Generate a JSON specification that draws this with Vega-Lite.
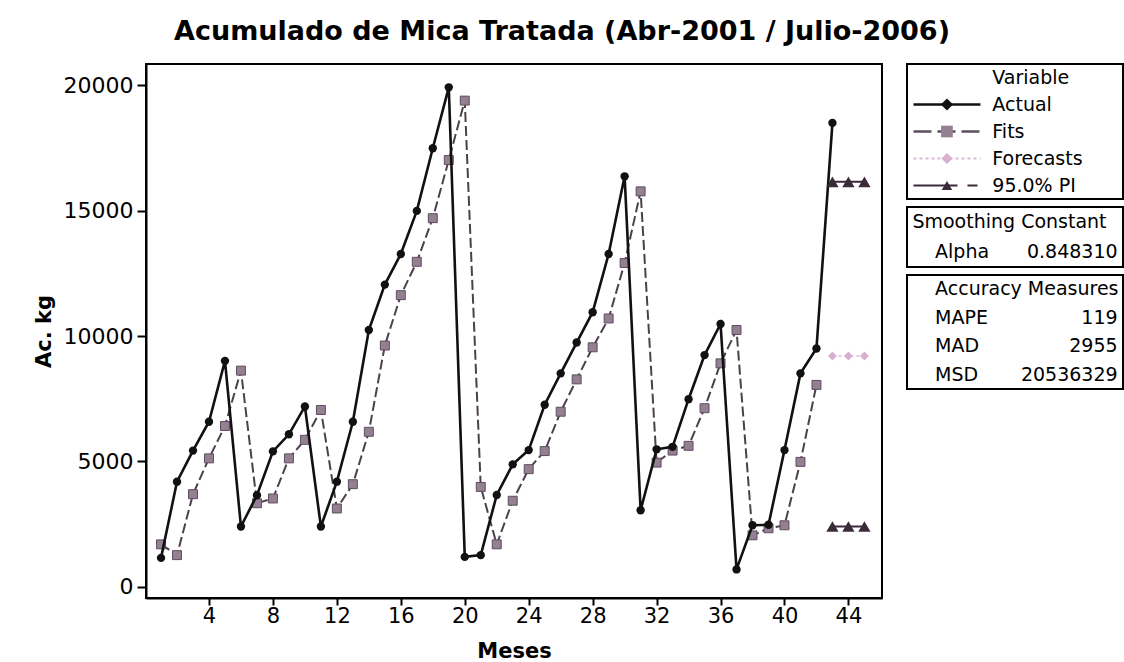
{
  "$schema": "https://vega.github.io/schema/vega-lite/v6.json",
  "background": "white",
  "padding": {"left": 32, "top": 18, "right": 0, "bottom": 0},
  "config": {"font": "DejaVu Sans", "view": {"stroke": null}},
  "title": {"text": "Acumulado de Mica Tratada (Abr-2001 / Julio-2006)", "font": "DejaVu Sans", "fontSize": 27, "fontWeight": "bold", "anchor": "middle", "offset": 17, "color": "black", "dx": -16},
  "datasets": {
    "series": [
      {"t": 1, "series": "Actual", "value": 1150}, {"t": 2, "series": "Actual", "value": 4190}, {"t": 3, "series": "Actual", "value": 5430},
      {"t": 4, "series": "Actual", "value": 6580}, {"t": 5, "series": "Actual", "value": 9010}, {"t": 6, "series": "Actual", "value": 2400},
      {"t": 7, "series": "Actual", "value": 3650}, {"t": 8, "series": "Actual", "value": 5400}, {"t": 9, "series": "Actual", "value": 6080},
      {"t": 10, "series": "Actual", "value": 7190}, {"t": 11, "series": "Actual", "value": 2400}, {"t": 12, "series": "Actual", "value": 4190},
      {"t": 13, "series": "Actual", "value": 6580}, {"t": 14, "series": "Actual", "value": 10240}, {"t": 15, "series": "Actual", "value": 12050},
      {"t": 16, "series": "Actual", "value": 13270}, {"t": 17, "series": "Actual", "value": 14990}, {"t": 18, "series": "Actual", "value": 17490},
      {"t": 19, "series": "Actual", "value": 19920}, {"t": 20, "series": "Actual", "value": 1190}, {"t": 21, "series": "Actual", "value": 1260},
      {"t": 22, "series": "Actual", "value": 3660}, {"t": 23, "series": "Actual", "value": 4880}, {"t": 24, "series": "Actual", "value": 5450},
      {"t": 25, "series": "Actual", "value": 7260}, {"t": 26, "series": "Actual", "value": 8510}, {"t": 27, "series": "Actual", "value": 9740},
      {"t": 28, "series": "Actual", "value": 10950}, {"t": 29, "series": "Actual", "value": 13270}, {"t": 30, "series": "Actual", "value": 16370},
      {"t": 31, "series": "Actual", "value": 3050}, {"t": 32, "series": "Actual", "value": 5480}, {"t": 33, "series": "Actual", "value": 5580},
      {"t": 34, "series": "Actual", "value": 7480}, {"t": 35, "series": "Actual", "value": 9240}, {"t": 36, "series": "Actual", "value": 10480},
      {"t": 37, "series": "Actual", "value": 690}, {"t": 38, "series": "Actual", "value": 2450}, {"t": 39, "series": "Actual", "value": 2470},
      {"t": 40, "series": "Actual", "value": 5450}, {"t": 41, "series": "Actual", "value": 8510}, {"t": 42, "series": "Actual", "value": 9500},
      {"t": 43, "series": "Actual", "value": 18500},
      {"t": 1, "series": "Fits", "value": 1690}, {"t": 2, "series": "Fits", "value": 1260}, {"t": 3, "series": "Fits", "value": 3690},
      {"t": 4, "series": "Fits", "value": 5120}, {"t": 5, "series": "Fits", "value": 6410}, {"t": 6, "series": "Fits", "value": 8620},
      {"t": 7, "series": "Fits", "value": 3330}, {"t": 8, "series": "Fits", "value": 3520}, {"t": 9, "series": "Fits", "value": 5120},
      {"t": 10, "series": "Fits", "value": 5860}, {"t": 11, "series": "Fits", "value": 7050}, {"t": 12, "series": "Fits", "value": 3120},
      {"t": 13, "series": "Fits", "value": 4090}, {"t": 14, "series": "Fits", "value": 6180}, {"t": 15, "series": "Fits", "value": 9620},
      {"t": 16, "series": "Fits", "value": 11630}, {"t": 17, "series": "Fits", "value": 12960}, {"t": 18, "series": "Fits", "value": 14700},
      {"t": 19, "series": "Fits", "value": 17020}, {"t": 20, "series": "Fits", "value": 19390}, {"t": 21, "series": "Fits", "value": 3980},
      {"t": 22, "series": "Fits", "value": 1690}, {"t": 23, "series": "Fits", "value": 3430}, {"t": 24, "series": "Fits", "value": 4690},
      {"t": 25, "series": "Fits", "value": 5410}, {"t": 26, "series": "Fits", "value": 6980}, {"t": 27, "series": "Fits", "value": 8270},
      {"t": 28, "series": "Fits", "value": 9550}, {"t": 29, "series": "Fits", "value": 10700}, {"t": 30, "series": "Fits", "value": 12910},
      {"t": 31, "series": "Fits", "value": 15770}, {"t": 32, "series": "Fits", "value": 4950}, {"t": 33, "series": "Fits", "value": 5430},
      {"t": 34, "series": "Fits", "value": 5620}, {"t": 35, "series": "Fits", "value": 7120}, {"t": 36, "series": "Fits", "value": 8910},
      {"t": 37, "series": "Fits", "value": 10240}, {"t": 38, "series": "Fits", "value": 2050}, {"t": 39, "series": "Fits", "value": 2330},
      {"t": 40, "series": "Fits", "value": 2450}, {"t": 41, "series": "Fits", "value": 4980}, {"t": 42, "series": "Fits", "value": 8050},
      {"t": 43, "series": "Forecasts", "value": 9200}, {"t": 44, "series": "Forecasts", "value": 9200}, {"t": 45, "series": "Forecasts", "value": 9200},
      {"t": 43, "series": "PI upper", "value": 16150}, {"t": 44, "series": "PI upper", "value": 16150}, {"t": 45, "series": "PI upper", "value": 16150},
      {"t": 43, "series": "PI lower", "value": 2400}, {"t": 44, "series": "PI lower", "value": 2400}, {"t": 45, "series": "PI lower", "value": 2400}
    ],
    "legendVar": [
      {"item": "Variable", "kind": "header"},
      {"item": "Actual", "kind": "entry"},
      {"item": "Fits", "kind": "entry"},
      {"item": "Forecasts", "kind": "entry"},
      {"item": "95.0% PI", "kind": "entry"}
    ],
    "smooth": [
      {"label": "Smoothing Constant", "kind": "header", "value": ""},
      {"label": "Alpha", "kind": "row", "value": "0.848310"}
    ],
    "accuracy": [
      {"label": "Accuracy Measures", "kind": "header", "value": ""},
      {"label": "MAPE", "kind": "row", "value": "119"},
      {"label": "MAD", "kind": "row", "value": "2955"},
      {"label": "MSD", "kind": "row", "value": "20536329"}
    ]
  },
  "spacing": 23,
  "hconcat": [
    {
      "width": 736,
      "height": 534,
      "view": {"stroke": "black", "strokeWidth": 2},
      "data": {"name": "series"},
      "encoding": {
        "x": {
          "field": "t", "type": "quantitative",
          "scale": {"domain": [0.06, 46.1], "nice": false, "zero": false},
          "axis": {"values": [4, 8, 12, 16, 20, 24, 28, 32, 36, 40, 44], "title": "Meses", "grid": false,
            "domainColor": "black", "domainWidth": 2, "tickColor": "black", "tickWidth": 2, "tickSize": 7,
            "labelFontSize": 21, "labelColor": "black", "labelPadding": 0, "labelFont": "DejaVu Sans",
            "titleFontSize": 21, "titleFontWeight": "bold", "titlePadding": 14, "titleColor": "black", "titleFont": "DejaVu Sans"}
        },
        "y": {
          "field": "value", "type": "quantitative",
          "scale": {"domain": [-450, 20850], "nice": false, "zero": false},
          "axis": {"values": [0, 5000, 10000, 15000, 20000], "format": "d", "title": "Ac. kg", "grid": false,
            "domainColor": "black", "domainWidth": 2, "tickColor": "black", "tickWidth": 2, "tickSize": 9,
            "labelFontSize": 22, "labelColor": "black", "labelPadding": 4, "labelFont": "DejaVu Sans",
            "titleFontSize": 21, "titleFontWeight": "bold", "titlePadding": 9, "titleColor": "black", "titleFont": "DejaVu Sans"}
        }
      },
      "layer": [
        {"transform": [{"filter": "datum.series === 'Fits'"}], "mark": {"type": "line", "color": "#4d404d", "strokeWidth": 2, "strokeDash": [10, 4]}},
        {"transform": [{"filter": "datum.series === 'Fits'"}], "mark": {"type": "point", "shape": "square", "filled": true, "fill": "#938093", "stroke": "#5e4d5e", "strokeWidth": 1, "size": 80, "opacity": 1}},
        {"transform": [{"filter": "datum.series === 'Actual'"}], "mark": {"type": "line", "color": "#111111", "strokeWidth": 2.6}},
        {"transform": [{"filter": "datum.series === 'Actual'"}], "mark": {"type": "point", "shape": "circle", "filled": true, "color": "#111111", "size": 70, "opacity": 1}},
        {"transform": [{"filter": "datum.series === 'Forecasts'"}], "mark": {"type": "line", "color": "#dcb8d2", "strokeWidth": 1.5, "strokeDash": [3, 3]}},
        {"transform": [{"filter": "datum.series === 'Forecasts'"}], "mark": {"type": "point", "shape": "diamond", "filled": true, "color": "#d9b0cc", "size": 80, "opacity": 1}},
        {"transform": [{"filter": "datum.series === 'PI upper' || datum.series === 'PI lower'"}], "mark": {"type": "line", "color": "#3b2a3a", "strokeWidth": 2}, "encoding": {"detail": {"field": "series"}}},
        {"transform": [{"filter": "datum.series === 'PI upper' || datum.series === 'PI lower'"}], "mark": {"type": "point", "shape": "triangle-up", "filled": true, "color": "#3b2a3a", "size": 150, "opacity": 1}}
      ]
    },
    {
      "spacing": 6,
      "vconcat": [
        {
          "width": 216,
          "height": 135,
          "view": {"stroke": "black", "strokeWidth": 2},
          "data": {"name": "legendVar"},
          "encoding": {
            "y": {"field": "item", "type": "nominal", "scale": {"type": "point", "domain": ["Variable", "Actual", "Fits", "Forecasts", "95.0% PI"], "padding": 0.5}, "axis": null}
          },
          "layer": [
            {
              "mark": {"type": "text", "align": "left", "baseline": "middle", "fontSize": 19, "color": "black"},
              "encoding": {"x": {"datum": 0.395, "type": "quantitative", "scale": {"domain": [0, 1], "nice": false, "zero": false}, "axis": null}, "text": {"field": "item"}}
            },
            {
              "transform": [{"filter": "datum.kind === 'entry'"}],
              "mark": {"type": "rule"},
              "encoding": {
                "x": {"datum": 0.03, "type": "quantitative"},
                "x2": {"datum": 0.34},
                "color": {"field": "item", "type": "nominal", "scale": {"domain": ["Actual", "Fits", "Forecasts", "95.0% PI"], "range": ["#111111", "#5e4d5e", "#dcb8d2", "#3b2a3a"]}, "legend": null},
                "strokeDash": {"field": "item", "type": "nominal", "scale": {"domain": ["Actual", "Fits", "Forecasts", "95.0% PI"], "range": [[1, 0], [18, 6], [3, 3], [44, 10, 10, 60]]}, "legend": null},
                "strokeWidth": {"field": "item", "type": "nominal", "scale": {"domain": ["Actual", "Fits", "Forecasts", "95.0% PI"], "range": [2.6, 2, 1.5, 2.6]}, "legend": null}
              }
            },
            {
              "transform": [{"filter": "datum.kind === 'entry'"}],
              "mark": {"type": "point", "filled": true, "opacity": 1},
              "encoding": {
                "x": {"datum": 0.185, "type": "quantitative"},
                "shape": {"field": "item", "type": "nominal", "scale": {"domain": ["Actual", "Fits", "Forecasts", "95.0% PI"], "range": ["diamond", "square", "diamond", "triangle-up"]}, "legend": null},
                "fill": {"field": "item", "type": "nominal", "scale": {"domain": ["Actual", "Fits", "Forecasts", "95.0% PI"], "range": ["#111111", "#938093", "#d9b0cc", "#3b2a3a"]}, "legend": null},
                "size": {"field": "item", "type": "nominal", "scale": {"domain": ["Actual", "Fits", "Forecasts", "95.0% PI"], "range": [150, 110, 110, 150]}, "legend": null}
              }
            }
          ]
        },
        {
          "width": 216,
          "height": 60,
          "view": {"stroke": "black", "strokeWidth": 2},
          "data": {"name": "smooth"},
          "encoding": {
            "y": {"field": "label", "type": "nominal", "scale": {"type": "point", "domain": ["Smoothing Constant", "Alpha"], "padding": 0.5}, "axis": null}
          },
          "layer": [
            {
              "transform": [{"filter": "datum.kind === 'header'"}],
              "mark": {"type": "text", "align": "left", "baseline": "middle", "fontSize": 19, "color": "black"},
              "encoding": {"x": {"datum": 0.025, "type": "quantitative", "scale": {"domain": [0, 1], "nice": false, "zero": false}, "axis": null}, "text": {"field": "label"}}
            },
            {
              "transform": [{"filter": "datum.kind === 'row'"}],
              "mark": {"type": "text", "align": "left", "baseline": "middle", "fontSize": 19, "color": "black"},
              "encoding": {"x": {"datum": 0.13, "type": "quantitative"}, "text": {"field": "label"}}
            },
            {
              "transform": [{"filter": "datum.kind === 'row'"}],
              "mark": {"type": "text", "align": "right", "baseline": "middle", "fontSize": 19, "color": "black"},
              "encoding": {"x": {"datum": 0.975, "type": "quantitative"}, "text": {"field": "value"}}
            }
          ]
        },
        {
          "width": 216,
          "height": 114,
          "view": {"stroke": "black", "strokeWidth": 2},
          "data": {"name": "accuracy"},
          "encoding": {
            "y": {"field": "label", "type": "nominal", "scale": {"type": "point", "domain": ["Accuracy Measures", "MAPE", "MAD", "MSD"], "padding": 0.5}, "axis": null}
          },
          "layer": [
            {
              "mark": {"type": "text", "align": "left", "baseline": "middle", "fontSize": 19, "color": "black"},
              "encoding": {"x": {"datum": 0.13, "type": "quantitative", "scale": {"domain": [0, 1], "nice": false, "zero": false}, "axis": null}, "text": {"field": "label"}}
            },
            {
              "transform": [{"filter": "datum.kind === 'row'"}],
              "mark": {"type": "text", "align": "right", "baseline": "middle", "fontSize": 19, "color": "black"},
              "encoding": {"x": {"datum": 0.975, "type": "quantitative"}, "text": {"field": "value"}}
            }
          ]
        }
      ]
    }
  ]
}
